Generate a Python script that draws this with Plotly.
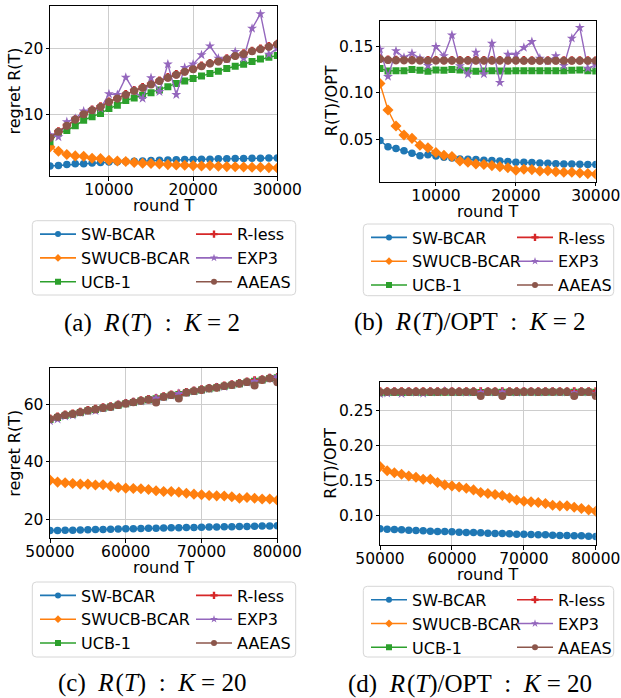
import plotly.graph_objects as go

W, H = 621, 698

# ---- series data -------------------------------------------------------
METHODS = ["SW-BCAR", "SWUCB-BCAR", "UCB-1", "R-less", "EXP3", "AAEAS"]

rounds_k2 = list(range(3000, 30001, 1000))
rounds_k20 = list(range(50000, 80001, 1000))

# (a) regret, K = 2
a_swbcar = [2.22, 2.30, 2.45, 2.55, 2.56, 2.65, 2.73, 2.83, 2.86, 2.88, 2.93, 2.98, 3.03, 3.08,
            3.12, 3.17, 3.18, 3.20, 3.24, 3.25, 3.29, 3.30, 3.33, 3.34, 3.37, 3.38, 3.41, 3.43]
a_swucb = [5.10, 4.44, 3.94, 3.74, 3.70, 3.38, 3.33, 3.08, 2.98, 2.88, 2.73, 2.63, 2.58, 2.53,
           2.42, 2.37, 2.32, 2.27, 2.22, 2.27, 2.17, 2.12, 2.11, 2.07, 2.02, 2.01, 1.97, 1.92]
a_ucb1 = [5.86, 7.22, 7.58, 8.28, 9.14, 9.65, 10.15, 10.90, 11.40, 12.10, 12.50, 12.90, 13.30, 13.70,
          14.20, 14.70, 15.05, 15.45, 15.80, 16.20, 16.55, 16.95, 17.30, 17.60, 18.00, 18.40, 18.65, 18.90]
a_rless = [6.55, 7.45, 8.40, 9.30, 10.10, 10.72, 11.22, 11.95, 12.48, 13.08, 13.66, 14.12, 14.62, 15.12,
           15.62, 16.08, 16.52, 16.92, 17.37, 17.77, 18.08, 18.47, 18.92, 19.22, 19.62, 19.93, 20.32, 20.68]
a_exp3 = [6.9, 6.6, 8.9, 9.4, 10.5, 10.65, 10.9, 13.1, 13.0, 15.6, 13.55, 12.4, 15.55, 13.45,
          17.6, 13.0, 17.1, 17.6, 19.0, 20.35, 18.5, 18.35, 19.5, 18.5, 23.0, 25.2, 19.1, 20.0]
a_aaeas = [6.50, 7.40, 8.30, 9.25, 10.05, 10.65, 11.15, 11.90, 12.40, 13.00, 13.60, 14.05, 14.55, 15.05,
           15.55, 16.00, 16.45, 16.85, 17.30, 17.70, 18.00, 18.40, 18.85, 19.15, 19.55, 19.85, 20.25, 20.60]

# (b) regret / OPT, K = 2
b_swbcar = [0.0486, 0.0420, 0.0400, 0.0378, 0.0350, 0.0324, 0.0335, 0.0320, 0.0306, 0.0300, 0.0289, 0.0285,
            0.0282, 0.0274, 0.0271, 0.0267, 0.0260, 0.0253, 0.0253, 0.0250, 0.0246, 0.0242, 0.0238, 0.0235,
            0.0235, 0.0231, 0.0228, 0.0228]
b_swucb = [0.1100, 0.0815, 0.0643, 0.0547, 0.0510, 0.0436, 0.0410, 0.0357, 0.0328, 0.0314, 0.0267, 0.0253,
           0.0235, 0.0228, 0.0217, 0.0206, 0.0195, 0.0167, 0.0177, 0.0174, 0.0159, 0.0163, 0.0152, 0.0145,
           0.0145, 0.0138, 0.0131, 0.0124]
b_ucb1 = [0.1260, 0.1235, 0.1238, 0.1238, 0.1249, 0.1242, 0.1231, 0.1246, 0.1242, 0.1249, 0.1246, 0.1238,
          0.1231, 0.1235, 0.1238, 0.1235, 0.1235, 0.1238, 0.1238, 0.1238, 0.1238, 0.1238, 0.1238, 0.1238,
          0.1242, 0.1246, 0.1238, 0.1235]
b_rless = [0.1368, 0.1356, 0.1353, 0.1353, 0.1352, 0.1351, 0.1351, 0.1351, 0.1350, 0.1350, 0.1350, 0.1350,
           0.1350, 0.1349, 0.1349, 0.1349, 0.1349, 0.1349, 0.1349, 0.1348, 0.1348, 0.1348, 0.1348, 0.1348,
           0.1348, 0.1348, 0.1348, 0.1348]
b_exp3 = [0.1468, 0.1174, 0.1450, 0.1380, 0.1425, 0.1370, 0.1292, 0.1496, 0.1396, 0.1620, 0.1289, 0.1200,
          0.1435, 0.1203, 0.1532, 0.1110, 0.1414, 0.1414, 0.1486, 0.1550, 0.1370, 0.1340, 0.1396, 0.1292,
          0.1586, 0.1700, 0.1263, 0.1300]
b_aaeas = [0.1364, 0.1353, 0.1350, 0.1350, 0.1350, 0.1348, 0.1348, 0.1348, 0.1347, 0.1347, 0.1347, 0.1347,
           0.1346, 0.1346, 0.1346, 0.1346, 0.1346, 0.1346, 0.1345, 0.1345, 0.1345, 0.1345, 0.1345, 0.1345,
           0.1345, 0.1345, 0.1345, 0.1345]

# (c) regret, K = 20
c_swbcar = [16.0, 16.05, 16.1, 16.15, 16.2, 16.28, 16.33, 16.4, 16.47, 16.53, 16.6, 16.65, 16.72, 16.78,
            16.84, 16.9, 16.95, 17.0, 17.05, 17.1, 17.15, 17.2, 17.25, 17.3, 17.35, 17.4, 17.45, 17.5,
            17.55, 17.62, 17.68]
c_swucb = [33.6, 32.9, 32.7, 32.4, 32.2, 32.2, 31.9, 32.0, 31.5, 31.0, 30.8, 30.7, 30.6, 30.35, 29.9,
           29.65, 29.6, 29.4, 29.0, 28.7, 28.5, 28.25, 28.1, 28.05, 27.8, 27.3, 27.55, 27.3, 27.0, 27.0, 26.6]
c_ucb1 = [54.7, 55.4, 56.1, 56.6, 57.2, 57.8, 58.2, 58.7, 59.1, 59.7, 60.2, 60.7, 61.2, 61.6, 62.0,
          62.6, 63.2, 63.5, 64.1, 64.5, 65.0, 65.5, 65.8, 66.3, 66.7, 67.2, 67.7, 68.1, 68.5, 69.0, 69.3]
c_rless = [55.0, 55.7, 56.4, 56.8, 57.4, 58.0, 58.4, 58.9, 59.3, 59.9, 60.45, 60.9, 61.4, 61.8, 62.2,
           62.8, 63.35, 63.7, 64.3, 64.75, 65.2, 65.7, 66.0, 66.5, 66.95, 67.4, 67.9, 68.35, 68.7, 69.2, 69.5]
c_exp3 = [54.2, 54.8, 55.9, 56.2, 57.1, 57.6, 57.8, 58.7, 59.1, 59.9, 60.3, 60.8, 61.1, 61.5, 62.2,
          62.5, 63.1, 63.8, 64.0, 64.6, 65.0, 65.5, 65.9, 66.2, 66.8, 67.2, 67.7, 68.0, 68.6, 69.0, 69.6]
c_aaeas = [54.9, 55.6, 56.3, 56.7, 57.3, 57.9, 58.3, 58.8, 59.2, 59.8, 60.35, 60.8, 61.3, 61.7, 60.7,
           62.7, 63.3, 62.1, 64.2, 64.65, 65.1, 65.6, 65.9, 66.4, 66.85, 67.3, 67.8, 66.6, 68.6, 69.1, 67.7]

# (d) regret / OPT, K = 20
d_swbcar = [0.0810, 0.0806, 0.0801, 0.0796, 0.0791, 0.0787, 0.0782, 0.0777, 0.0772, 0.0772, 0.0768,
            0.0763, 0.0758, 0.0758, 0.0753, 0.0749, 0.0744, 0.0744, 0.0739, 0.0734, 0.0734, 0.0730,
            0.0725, 0.0725, 0.0720, 0.0715, 0.0715, 0.0711, 0.0711, 0.0706, 0.0701]
d_swucb = [0.1698, 0.1640, 0.1610, 0.1590, 0.1565, 0.1546, 0.1518, 0.1518, 0.1470, 0.1437, 0.1423,
           0.1408, 0.1390, 0.1366, 0.1328, 0.1314, 0.1300, 0.1285, 0.1252, 0.1223, 0.1204, 0.1195,
           0.1185, 0.1171, 0.1147, 0.1138, 0.1138, 0.1119, 0.1100, 0.1081, 0.1062]
d_ucb1 = [0.2752, 0.2755, 0.2756, 0.2755, 0.2756, 0.2756, 0.2755, 0.2756, 0.2756, 0.2757, 0.2756,
          0.2756, 0.2757, 0.2756, 0.2756, 0.2757, 0.2756, 0.2757, 0.2757, 0.2756, 0.2757, 0.2757,
          0.2756, 0.2757, 0.2757, 0.2757, 0.2756, 0.2757, 0.2757, 0.2757, 0.2757]
d_rless = [0.2770, 0.2771, 0.2770, 0.2771, 0.2770, 0.2771, 0.2771, 0.2770, 0.2771, 0.2771, 0.2771,
           0.2770, 0.2771, 0.2771, 0.2771, 0.2770, 0.2771, 0.2771, 0.2771, 0.2770, 0.2771, 0.2771,
           0.2771, 0.2771, 0.2770, 0.2771, 0.2771, 0.2771, 0.2771, 0.2770, 0.2771]
d_exp3 = [0.2735, 0.2745, 0.2762, 0.2738, 0.2760, 0.2755, 0.2740, 0.2762, 0.2758, 0.2775, 0.2760,
          0.2762, 0.2755, 0.2760, 0.2758, 0.2762, 0.2757, 0.2760, 0.2762, 0.2755, 0.2760, 0.2762,
          0.2758, 0.2760, 0.2762, 0.2757, 0.2758, 0.2750, 0.2762, 0.2758, 0.2740]
d_aaeas = [0.2763, 0.2765, 0.2764, 0.2765, 0.2764, 0.2765, 0.2764, 0.2765, 0.2764, 0.2765, 0.2764,
           0.2765, 0.2764, 0.2765, 0.2704, 0.2764, 0.2765, 0.2704, 0.2764, 0.2765, 0.2764, 0.2765,
           0.2764, 0.2765, 0.2764, 0.2765, 0.2764, 0.2704, 0.2765, 0.2764, 0.2704]

# ---- styling -----------------------------------------------------------
COLORS = ["#1f77b4", "#ff7f0e", "#2ca02c", "#d62728", "#9467bd", "#8c564b"]
SYMBOLS = ["circle", "diamond", "square", "cross", "star", "circle"]
SIZES = [7.5, 8.5, 7, 7, 7.5, 8]
LEGEND_SIZES = [6, 6, 6, 6, 6, 6]

SANS = "DejaVu Sans"
SERIF = "Liberation Serif"
NB = "\u00a0"
HAIR = "\u200a"


def px(x):
    return x / W


def py(y):
    return 1 - y / H


def caption(tag, opt, k):
    lhs = f"<i>R</i>{HAIR}(<i>T</i>)" + ("/OPT" if opt else "")
    return f"({tag}){NB}{NB}{lhs}{NB}{NB}:{NB}{NB}<i>K</i>{NB}={NB}{k}"


panels = [
    dict(x=rounds_k2, ys=[a_swbcar, a_swucb, a_ucb1, a_rless, a_exp3, a_aaeas],
         box=(50, 6, 277.3, 176), xr=[3000, 30000], yr=[0.7, 26.4],
         xt=[10000, 20000, 30000], yt=[10, 20], yfmt="d", ytitle="regret R(T)",
         ytitle_x=14.5, xtitle_y=205.5,
         caption=caption("a", False, 2), cap_xy=(151.5, 323),
         leg=(32.3, 220.7, 295.7, 295, 35, 191)),
    dict(x=rounds_k2, ys=[b_swbcar, b_swucb, b_ucb1, b_rless, b_exp3, b_aaeas],
         box=(380, 20.7, 595.8, 181.7), xr=[3000, 30000], yr=[0.0044, 0.1775],
         xt=[10000, 20000, 30000], yt=[0.05, 0.10, 0.15], yfmt=".2f", ytitle="R(T)/OPT",
         ytitle_x=331, xtitle_y=211.5,
         caption=caption("b", True, 2), cap_xy=(469.5, 322),
         leg=(363.3, 224, 613.7, 295.7, 366, 512)),
    dict(x=rounds_k20, ys=[c_swbcar, c_swucb, c_ucb1, c_rless, c_exp3, c_aaeas],
         box=(50, 368.3, 277.3, 538.3), xr=[50000, 80000], yr=[13.3, 72.6],
         xt=[50000, 60000, 70000, 80000], yt=[20, 40, 60], yfmt="d", ytitle="regret R(T)",
         ytitle_x=14.5, xtitle_y=567.8,
         caption=caption("c", False, 20), cap_xy=(152, 683),
         leg=(32.3, 582, 295.7, 657, 35, 191)),
    dict(x=rounds_k20, ys=[d_swbcar, d_swucb, d_ucb1, d_rless, d_exp3, d_aaeas],
         box=(380, 382.3, 595.8, 545), xr=[50000, 80000], yr=[0.058, 0.29],
         xt=[50000, 60000, 70000, 80000], yt=[0.10, 0.15, 0.20, 0.25], yfmt=".2f", ytitle="R(T)/OPT",
         ytitle_x=331, xtitle_y=574.8,
         caption=caption("d", True, 20), cap_xy=(470, 684),
         leg=(363.3, 586.3, 613.7, 657, 366, 512)),
]

fig = go.Figure()
layout = dict(
    width=W, height=H, autosize=False,
    margin=dict(l=0, r=0, t=0, b=0, autoexpand=False),
    paper_bgcolor="white", plot_bgcolor="white",
    showlegend=True, shapes=[], annotations=[],
)

axis_common = dict(
    showline=True, linecolor="black", linewidth=1, mirror=True,
    ticks="outside", ticklen=3.5, tickwidth=1, tickcolor="black",
    showgrid=True, gridcolor="#cdcdcd", gridwidth=1, zeroline=False,
    tickfont=dict(family=SANS, size=15.5, color="black"), automargin=False,
    ticklabeloverflow="allow",
)


def rounded_box(x0, y0, x1, y1, r=4):
    X0, X1 = px(x0), px(x1)
    Y0, Y1 = py(y0), py(y1)
    rx, ry = r / W, r / H
    return (f"M{X0 + rx},{Y0} L{X1 - rx},{Y0} Q{X1},{Y0} {X1},{Y0 - ry} "
            f"L{X1},{Y1 + ry} Q{X1},{Y1} {X1 - rx},{Y1} "
            f"L{X0 + rx},{Y1} Q{X0},{Y1} {X0},{Y1 + ry} "
            f"L{X0},{Y0 - ry} Q{X0},{Y0} {X0 + rx},{Y0} Z")


def label(text, x, y, angle=0, family=SANS, size=16):
    return dict(text=text, xref="paper", yref="paper", x=px(x), y=py(y),
                xanchor="center", yanchor="middle", showarrow=False, textangle=angle,
                font=dict(family=family, size=size, color="black"))


for i, p in enumerate(panels):
    sfx = "" if i == 0 else str(i + 1)
    xa, ya = "x" + sfx, "y" + sfx
    x0, y0, x1, y1 = p["box"]
    leg_a = "legend" if i == 0 else f"legend{2 * i + 1}"
    leg_b = f"legend{2 * i + 2}"

    for k, name in enumerate(METHODS):
        group = f"{name}-{i}"
        # the curve itself
        fig.add_trace(go.Scatter(
            x=p["x"], y=p["ys"][k], name=name, mode="lines+markers",
            xaxis=xa, yaxis=ya, legendgroup=group, showlegend=False,
            line=dict(color=COLORS[k], width=1.4),
            marker=dict(symbol=SYMBOLS[k], size=SIZES[k], color=COLORS[k], line=dict(width=0)),
        ))
        # legend key with a smaller marker
        fig.add_trace(go.Scatter(
            x=[None], y=[None], name=name, mode="lines+markers",
            xaxis=xa, yaxis=ya, legendgroup=group, showlegend=True,
            legend=leg_a if k < 3 else leg_b,
            line=dict(color=COLORS[k], width=1.6),
            marker=dict(symbol=SYMBOLS[k], size=LEGEND_SIZES[k], color=COLORS[k], line=dict(width=0)),
        ))

    layout["xaxis" + sfx] = dict(
        axis_common, domain=[px(x0), px(x1)], range=p["xr"], tickvals=p["xt"],
        tickformat="d", anchor=ya, ticklabelstandoff=-4,
    )
    layout["yaxis" + sfx] = dict(
        axis_common, domain=[py(y1), py(y0)], range=p["yr"], tickvals=p["yt"],
        tickformat=p["yfmt"], anchor=xa, ticklabelstandoff=-1,
    )

    # axis titles
    layout["annotations"].append(label("round T", (x0 + x1) / 2, p["xtitle_y"]))
    layout["annotations"].append(label(p["ytitle"], p["ytitle_x"], (y0 + y1) / 2, angle=-90))

    lx0, ly0, lx1, ly1, c1, c2 = p["leg"]
    layout["shapes"].append(dict(
        type="path", xref="paper", yref="paper", path=rounded_box(lx0, ly0, lx1, ly1),
        line=dict(color="#d6d6d6", width=1), fillcolor="white", layer="below",
    ))
    leg_common = dict(
        orientation="v", xanchor="left", yanchor="top", y=py(ly0 - 3.5),
        bgcolor="rgba(0,0,0,0)", borderwidth=0, itemwidth=36, tracegroupgap=0,
        traceorder="normal", font=dict(family=SANS, size=16, color="black"),
    )
    layout[leg_a] = dict(leg_common, x=px(c1))
    layout[leg_b] = dict(leg_common, x=px(c2))

    cx, cy = p["cap_xy"]
    layout["annotations"].append(label(p["caption"], cx, cy, family=SERIF, size=25))

fig.update_layout(**layout)
fig.write_html("out.html")
